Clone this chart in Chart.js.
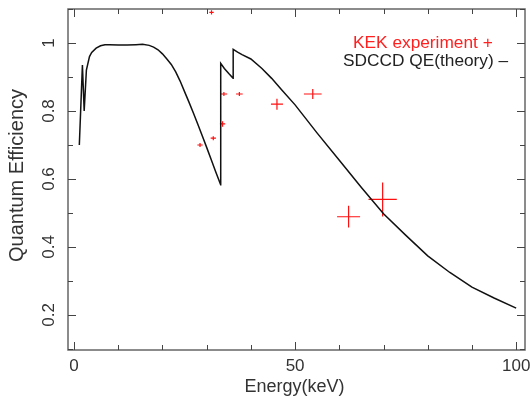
<!DOCTYPE html>
<html>
<head>
<meta charset="utf-8">
<script src="https://cdn.jsdelivr.net/npm/chart.js@4/dist/chart.umd.min.js"></script>
<style>
  body { margin: 0; background: #fff; }
  #wrap { width: 532px; height: 399px; }
</style>
</head>
<body>
<div id="wrap"><canvas id="qeChart" width="532" height="399"></canvas></div>
<script>
// theory curve (SDCCD QE)
const theoryE = [1.2, 1.5, 1.9, 2.3, 2.8, 3.5, 4, 5, 6, 7, 8, 10, 12, 14, 15.5, 17, 18, 19, 20, 21, 22, 23, 24, 25, 26, 27, 28, 29, 30, 31, 32, 33.17,
                 33.18, 34, 35, 35.98, 36, 37, 38, 40, 42.5, 44.7, 47, 50, 55, 60, 65, 70, 75, 80, 85, 90, 95, 100];
const theoryQ = [0.70, 0.80, 0.935, 0.80, 0.92, 0.96, 0.972, 0.985, 0.992, 0.995, 0.995, 0.994, 0.994, 0.995, 0.996, 0.993, 0.988, 0.980, 0.968, 0.953, 0.937, 0.915, 0.888, 0.857, 0.826, 0.794, 0.761, 0.727, 0.693, 0.658, 0.623, 0.583,
                 0.94, 0.925, 0.91, 0.896, 0.981, 0.973, 0.966, 0.953, 0.925, 0.896, 0.862, 0.818, 0.735, 0.655, 0.575, 0.498, 0.435, 0.374, 0.325, 0.282, 0.25, 0.22];

// KEK experiment points with errors
const kekE    = [28.5, 31.1, 31.5, 33.6, 33.9, 37.4, 45.9, 54.0, 62.1, 69.8];
const kekQ    = [0.70, 1.09, 0.72, 0.762, 0.85, 0.85, 0.82, 0.85, 0.489, 0.54];
const kekEErr = [0.6, 0.5, 0.6, 0.6, 0.75, 0.75, 1.36, 2.0, 2.6, 3.2];
const kekQErr = [0.006, 0.006, 0.006, 0.008, 0.006, 0.006, 0.016, 0.015, 0.032, 0.05];

const xMajor = [0, 50, 100];
const xMinor = [10, 20, 30, 40, 60, 70, 80, 90];
const yMajor = [0.2, 0.4, 0.6, 0.8, 1];
const yMinor = [0.1, 0.3, 0.5, 0.7, 0.9, 1.1];

const FONT = '"Liberation Sans", Arial, Helvetica, sans-serif';

const theoryPts = theoryE.map((e, i) => ({ x: e, y: theoryQ[i] }));

// each cross = horizontal bar + vertical bar, separated by gaps
const kekPts = [];
kekE.forEach((e, i) => {
    const q = kekQ[i];
    kekPts.push({ x: e - kekEErr[i], y: q }, { x: e + kekEErr[i], y: q }, { x: e, y: null });
    kekPts.push({ x: e, y: q - kekQErr[i] }, { x: e, y: q + kekQErr[i] }, { x: e, y: null });
});

const axisDecor = {
    id: 'axisDecor',
    afterDraw(chart) {
        const { ctx, chartArea: a, scales: { x, y } } = chart;
        ctx.save();
        // frame
        ctx.strokeStyle = '#666';
        ctx.lineWidth = 1.5;
        ctx.strokeRect(a.left, a.top, a.right - a.left, a.bottom - a.top);

        // inward ticks on all four sides
        ctx.lineWidth = 1;
        ctx.strokeStyle = '#444';
        ctx.beginPath();
        const tickX = (v, len) => {
            const px = Math.round(x.getPixelForValue(v)) + 0.5;
            ctx.moveTo(px, a.bottom); ctx.lineTo(px, a.bottom - len);
            ctx.moveTo(px, a.top); ctx.lineTo(px, a.top + len);
        };
        const tickY = (v, len) => {
            const py = Math.round(y.getPixelForValue(v)) + 0.5;
            ctx.moveTo(a.left, py); ctx.lineTo(a.left + len, py);
            ctx.moveTo(a.right, py); ctx.lineTo(a.right - len, py);
        };
        xMajor.forEach(v => tickX(v, 8));
        xMinor.forEach(v => tickX(v, 5));
        yMajor.forEach(v => tickY(v, 8));
        yMinor.forEach(v => tickY(v, 5));
        ctx.stroke();

        // tick labels
        ctx.fillStyle = '#333';
        ctx.font = '17px ' + FONT;
        ctx.textAlign = 'center';
        ctx.textBaseline = 'middle';
        xMajor.forEach(v => ctx.fillText(String(v), x.getPixelForValue(v), a.bottom + 16));
        yMajor.forEach(v => {
            ctx.save();
            ctx.translate(a.left - 19, y.getPixelForValue(v));
            ctx.rotate(-Math.PI / 2);
            ctx.fillText(String(v), 0, 0);
            ctx.restore();
        });

        // axis titles
        ctx.font = '18px ' + FONT;
        ctx.fillText('Energy(keV)', (a.left + a.right) / 2 - 2, a.bottom + 37);
        ctx.save();
        ctx.translate(17, (a.top + a.bottom) / 2 - 4);
        ctx.rotate(-Math.PI / 2);
        ctx.font = '20px ' + FONT;
        ctx.fillText('Quantum Efficiency', 0, 0);
        ctx.restore();

        // legend text
        ctx.font = '17.3px ' + FONT;
        ctx.textAlign = 'left';
        ctx.fillStyle = '#ff2020';
        ctx.fillText('KEK experiment +', 353, 43);
        ctx.fillStyle = '#222';
        ctx.fillText('SDCCD QE(theory) \u2013', 343, 61);
        ctx.restore();
    }
};

new Chart(document.getElementById('qeChart').getContext('2d'), {
    type: 'line',
    data: {
        datasets: [
            {
                label: 'SDCCD QE(theory)',
                data: theoryPts,
                borderColor: '#111',
                borderWidth: 1.5,
                pointRadius: 0,
                tension: 0,
                fill: false
            },
            {
                label: 'KEK experiment',
                data: kekPts,
                borderColor: '#ff1010',
                borderWidth: 1.2,
                pointRadius: 0,
                spanGaps: false,
                tension: 0,
                fill: false
            }
        ]
    },
    options: {
        responsive: false,
        animation: false,
        layout: { padding: { left: 68, top: 9, right: 7, bottom: 49 } },
        scales: {
            x: { type: 'linear', min: -1.36, max: 102, display: false },
            y: { type: 'linear', min: 0.097, max: 1.1, display: false }
        },
        plugins: {
            legend: { display: false },
            tooltip: { enabled: false }
        }
    },
    plugins: [axisDecor]
});
</script>
</body>
</html>
